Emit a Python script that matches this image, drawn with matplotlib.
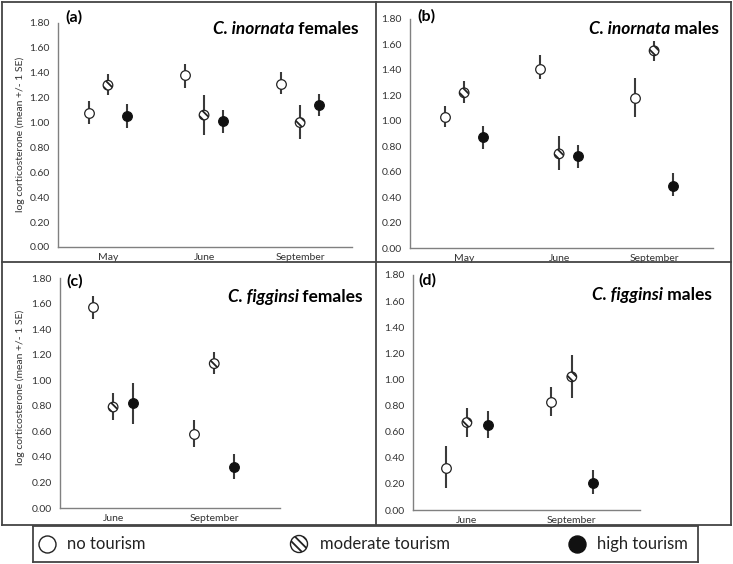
import numpy as np
import matplotlib
matplotlib.use('Agg')
import matplotlib.pyplot as plt
from matplotlib.lines import Line2D

plt.rcParams['font.family'] = ['Lato', 'DejaVu Sans']
plt.rcParams['hatch.linewidth'] = 1.3

W, H = 733, 564

# 数据：均值与 ±1 SE 上下端
months_a = ['May', 'June', 'September']
months_c = ['June', 'September']

# (a) C. inornata females
a_mean = {'none': [1.08, 1.38, 1.31], 'mod': [1.30, 1.06, 1.00], 'high': [1.05, 1.01, 1.14]}
a_hi = {'none': [1.17, 1.47, 1.41], 'mod': [1.39, 1.22, 1.14], 'high': [1.15, 1.10, 1.23]}
a_lo = {'none': [0.99, 1.28, 1.23], 'mod': [1.22, 0.90, 0.87], 'high': [0.96, 0.92, 1.05]}

# (b) C. inornata males
b_mean = {'none': [1.03, 1.41, 1.18], 'mod': [1.22, 0.74, 1.55], 'high': [0.87, 0.72, 0.49]}
b_hi = {'none': [1.12, 1.52, 1.34], 'mod': [1.31, 0.88, 1.63], 'high': [0.96, 0.81, 0.59]}
b_lo = {'none': [0.95, 1.33, 1.03], 'mod': [1.14, 0.61, 1.47], 'high': [0.78, 0.63, 0.41]}

# (c) C. figginsi females
c_mean = {'none': [1.57, 0.58], 'mod': [0.79, 1.13], 'high': [0.82, 0.32]}
c_hi = {'none': [1.66, 0.69], 'mod': [0.90, 1.22], 'high': [0.98, 0.42]}
c_lo = {'none': [1.48, 0.48], 'mod': [0.69, 1.05], 'high': [0.66, 0.23]}

# (d) C. figginsi males
d_mean = {'none': [0.32, 0.83], 'mod': [0.67, 1.02], 'high': [0.65, 0.21]}
d_hi = {'none': [0.49, 0.94], 'mod': [0.78, 1.19], 'high': [0.76, 0.31]}
d_lo = {'none': [0.17, 0.72], 'mod': [0.56, 0.86], 'high': [0.55, 0.12]}

groups = ['none', 'mod', 'high']
legend_labels = ['no tourism', 'moderate tourism', 'high tourism']
styles = {
    'none': dict(facecolor='white', edgecolor='#222222', hatch=None),
    'mod': dict(facecolor='white', edgecolor='#222222', hatch='\\\\\\\\'),
    'high': dict(facecolor='#111111', edgecolor='#111111', hatch=None),
}
offsets = {'none': -0.2, 'mod': 0.0, 'high': 0.2}

fig = plt.figure(figsize=(W / 100, H / 100), dpi=100)


def px_rect(left, right, top, bottom):
    return [left / W, 1 - bottom / H, (right - left) / W, (bottom - top) / H]


def draw_panel(rect, xlim, months, mean, hi, lo):
    ax = fig.add_axes(rect)
    x = np.arange(len(months))
    for g in groups:
        xs = x + offsets[g]
        ax.vlines(xs, lo[g], hi[g], color='#3a3a3a', linewidth=1.5, zorder=2)
        st = styles[g]
        ax.scatter(xs, mean[g], s=48, marker='o', facecolor=st['facecolor'],
                   edgecolor=st['edgecolor'], hatch=st['hatch'], linewidth=0.9, zorder=3)
    ax.set_xlim(*xlim)
    ax.set_ylim(0, 1.8)
    ax.set_yticks(np.arange(0, 1.81, 0.2))
    ax.set_yticklabels([f'{v:.2f}' for v in np.arange(0, 1.81, 0.2)])
    ax.set_xticks(x)
    ax.set_xticklabels(months)
    ax.tick_params(axis='y', length=0, labelsize=7.5, labelcolor='#333333', pad=6)
    ax.tick_params(axis='x', length=0, labelsize=7.5, labelcolor='#333333', pad=4)
    for s in ['top', 'right']:
        ax.spines[s].set_visible(False)
    for s in ['left', 'bottom']:
        ax.spines[s].set_color('#808080')
        ax.spines[s].set_linewidth(1.0)
    return ax


draw_panel(px_rect(58, 352, 23, 247), (-0.52, 2.54), months_a, a_mean, a_hi, a_lo)
draw_panel(px_rect(410, 713, 19, 248), (-0.57, 2.62), months_a, b_mean, b_hi, b_lo)
draw_panel(px_rect(60, 280, 278, 508), (-0.525, 1.65), months_c, c_mean, c_hi, c_lo)
draw_panel(px_rect(413, 640, 275, 510), (-0.514, 1.65), months_c, d_mean, d_hi, d_lo)

# 面板标签与物种标题
for lab, px, py in [('(a)', 65, 17), ('(b)', 417, 16), ('(c)', 66, 281), ('(d)', 418, 280)]:
    fig.text(px / W, 1 - py / H, lab, ha='left', va='center', weight='bold', size=11.5)

fig.canvas.draw()
renderer = fig.canvas.get_renderer()
for ital, rest, px, py in [('C. inornata', ' females', 359, 29), ('C. inornata', ' males', 719, 29),
                           ('C. figginsi', ' females', 363, 297), ('C. figginsi', ' males', 712, 295)]:
    t2 = fig.text(px / W, 1 - py / H, rest, ha='right', va='center', weight='bold', size=12.5)
    bb = t2.get_window_extent(renderer)
    fig.text(bb.x0 / W, 1 - py / H, ital, ha='right', va='center', weight='bold',
             style='italic', size=12.5)

for py in [134, 387]:
    fig.text(20 / W, 1 - py / H, 'log corticosterone (mean +/- 1 SE)', rotation=90,
             ha='center', va='center', size=7.5, color='#333333')

# 面板边框
frame_kw = dict(color='#444444', linewidth=1.3, transform=fig.transFigure)


def fline(x0, y0, x1, y1):
    fig.add_artist(Line2D([x0 / W, x1 / W], [1 - y0 / H, 1 - y1 / H], **frame_kw))


fline(2, 2, 731, 2)
fline(2, 525, 731, 525)
fline(2, 2, 2, 525)
fline(731, 2, 731, 525)
fline(376, 2, 376, 525)
fline(2, 262, 731, 262)

# 图例框
axl = fig.add_axes(px_rect(33, 698, 526, 562))
axl.set_xlim(33, 698)
axl.set_ylim(562, 526)
axl.set_xticks([])
axl.set_yticks([])
for s in axl.spines.values():
    s.set_color('#444444')
    s.set_linewidth(1.3)
leg_pos = [(47, 67), (299, 320), (577, 597)]
for g, lab, (mx, tx) in zip(groups, legend_labels, leg_pos):
    st = styles[g]
    axl.scatter([mx], [544], s=150, marker='o', facecolor=st['facecolor'],
                edgecolor=st['edgecolor'], hatch=st['hatch'], linewidth=1.0)
    axl.text(tx, 544, lab, ha='left', va='center', size=12, color='#222222')

fig.savefig('out.png', dpi=100)
